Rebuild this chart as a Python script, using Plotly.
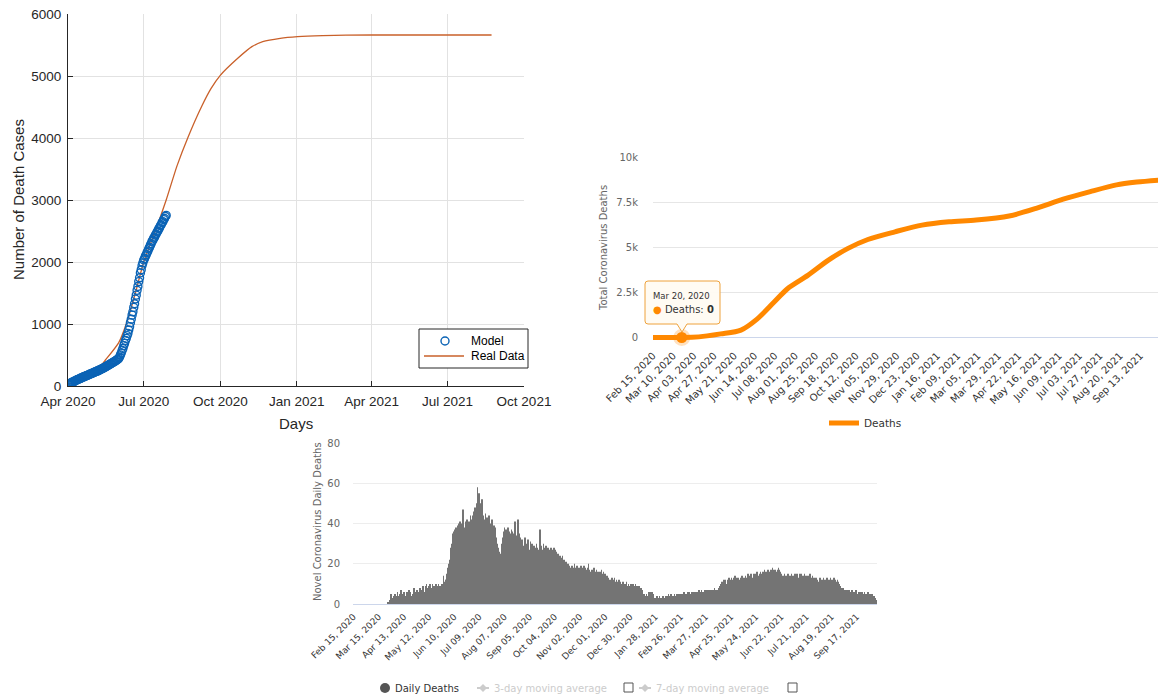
import plotly.graph_objects as go
import pandas as pd

# page has an 8px body margin: figure is sized to the visible window area
OFF = 8
W, H = 1166 - OFF, 697 - OFF
def px(x):
    return (x - OFF) / W
def py(y):
    return 1 - (y - OFF) / H

# ---------------- Panel 1 (model vs real data) ----------------
p1_tick_dates = ["2020-04-01", "2020-07-01", "2020-10-01", "2021-01-01", "2021-04-01", "2021-07-01", "2021-10-01"]
p1_tick_labels = ["Apr 2020", "Jul 2020", "Oct 2020", "Jan 2021", "Apr 2021", "Jul 2021", "Oct 2021"]
model_start = "2020-04-01"          # one model point per day
model_apr = [25, 34, 40, 47, 52, 60, 66, 71, 80, 86, 92, 101, 106, 111, 119, 124, 130, 137, 141, 148,
             155, 159, 166, 172, 176, 184, 189, 193, 200, 205]
model_may = [210, 217, 221, 229, 233, 241, 245, 253, 258, 266, 271, 280, 285, 294, 300, 309, 315, 325,
             331, 341, 347, 357, 363, 373, 379, 389, 395, 406, 413, 425, 433]
model_jun = [446, 468, 502, 532, 572, 606, 652, 688, 733, 768, 812, 848, 903, 957, 1022, 1076, 1143,
             1196, 1268, 1326, 1404, 1465, 1543, 1606, 1684, 1745, 1824, 1876, 1944, 1986]
model_jul = [2032, 2055, 2094, 2116, 2153, 2176, 2213, 2236, 2272, 2297, 2333, 2352, 2384, 2401,
             2434, 2452, 2483, 2501, 2534, 2551, 2584, 2601, 2634, 2651, 2683, 2701, 2733, 2752]
real_dates = ["2020-04-01", "2020-04-15", "2020-05-01", "2020-05-11", "2020-05-16", "2020-06-01",
              "2020-06-10", "2020-06-20", "2020-07-01", "2020-07-15", "2020-07-28", "2020-08-10",
              "2020-08-23", "2020-09-09", "2020-09-20", "2020-10-01", "2020-10-22", "2020-11-08",
              "2020-11-21", "2020-12-12", "2021-01-02", "2021-02-01", "2021-03-01", "2021-05-01",
              "2021-08-23"]
real_vals = [20, 120, 250, 339, 419, 700, 1000, 1450, 2000, 2500, 3000, 3550, 4005, 4520, 4800,
             5010, 5285, 5473, 5553, 5607, 5634, 5652, 5660, 5661, 5661]

# ---------------- Panel 2 (total deaths) ----------------
deaths_dates = ["2020-02-15", "2020-03-20", "2020-04-01", "2020-04-19", "2020-05-05", "2020-05-29",
                "2020-06-17", "2020-07-07", "2020-07-23", "2020-08-16", "2020-09-09", "2020-10-02",
                "2020-10-26", "2020-11-27", "2020-12-29", "2021-01-30", "2021-03-03", "2021-04-11",
                "2021-05-13", "2021-06-14", "2021-07-16", "2021-08-16", "2021-09-09", "2021-10-10"]
deaths_vals = [0, 0, 10, 90, 200, 410, 1020, 1950, 2700, 3440, 4275, 4925, 5430, 5855, 6227,
               6413, 6505, 6729, 7156, 7660, 8085, 8457, 8610, 8740]
tooltip_date = "2020-03-20"
p2_y_ticks = [0, 2500, 5000, 7500, 10000]
p2_y_labels = ["0", "2.5k", "5k", "7.5k", "10k"]
p2_x_ticks = ["2020-02-15", "2020-03-10", "2020-04-03", "2020-04-27", "2020-05-21", "2020-06-14",
              "2020-07-08", "2020-08-01", "2020-08-25", "2020-09-18", "2020-10-12", "2020-11-05",
              "2020-11-29", "2020-12-23", "2021-01-16", "2021-02-09", "2021-03-05", "2021-03-29",
              "2021-04-22", "2021-05-16", "2021-06-09", "2021-07-03", "2021-07-27", "2021-08-20",
              "2021-09-13"]
p2_x_labels = ["Feb 15, 2020", "Mar 10, 2020", "Apr 03, 2020", "Apr 27, 2020", "May 21, 2020",
               "Jun 14, 2020", "Jul 08, 2020", "Aug 01, 2020", "Aug 25, 2020", "Sep 18, 2020",
               "Oct 12, 2020", "Nov 05, 2020", "Nov 29, 2020", "Dec 23, 2020", "Jan 16, 2021",
               "Feb 09, 2021", "Mar 05, 2021", "Mar 29, 2021", "Apr 22, 2021", "May 16, 2021",
               "Jun 09, 2021", "Jul 03, 2021", "Jul 27, 2021", "Aug 20, 2021", "Sep 13, 2021"]

# ---------------- Panel 3 (daily deaths) ----------------
daily_start = "2020-02-15"
daily_2020_feb = [0] * 15
daily_2020_mar = [0] * 25 + [1, 1, 2, 5, 4, 3]
daily_2020_apr = [4, 3, 5, 2, 4, 6, 4, 3, 5, 7, 4, 5, 6, 3, 4, 5, 6, 4, 7, 5, 6, 4, 5, 6, 8, 5, 6, 7, 5, 6]
daily_2020_may = [6, 8, 5, 7, 9, 8, 6, 9, 10, 8, 7, 9, 10, 9, 8, 10, 9, 8, 9, 10, 9, 8, 10, 9, 9, 8, 10, 9, 14, 11, 12]
daily_2020_jun = [12, 15, 18, 20, 22, 28, 30, 33, 35, 36, 37, 38, 36, 39, 40, 38, 41, 39, 40, 47,
                  45, 38, 41, 40, 42, 38, 41, 40, 44, 42]
daily_2020_jul = [40, 44, 46, 48, 45, 50, 58, 52, 55, 50, 48, 52, 45, 44, 42, 45, 40, 43, 41, 44,
                  42, 40, 38, 42, 36, 39, 35, 38, 33, 30, 28]
daily_2020_aug = [26, 25, 24, 30, 33, 36, 38, 35, 37, 34, 38, 36, 33, 35, 37, 36, 33, 35, 41, 36,
                  34, 38, 42, 35, 33, 30, 32, 31, 29, 30, 33]
daily_2020_sep = [28, 30, 32, 29, 27, 31, 28, 30, 26, 29, 28, 27, 30, 28, 27, 26, 37, 29, 28, 27,
                  30, 28, 26, 29, 27, 28, 26, 27, 25, 28]
daily_2020_oct = [27, 26, 28, 25, 27, 26, 24, 25, 23, 24, 22, 23, 24, 21, 22, 20, 21, 19, 20, 18,
                  19, 17, 18, 19, 17, 18, 20, 18, 17, 19, 18]
daily_2020_nov = [17, 18, 19, 17, 18, 16, 19, 18, 17, 16, 18, 20, 17, 16, 15, 17, 16, 18, 15, 16,
                  17, 15, 16, 14, 16, 15, 17, 15, 16, 14]
daily_2020_dec = [15, 13, 14, 12, 13, 12, 11, 12, 13, 11, 12, 13, 11, 12, 10, 11, 12, 10, 11, 10,
                  9, 11, 10, 9, 10, 11, 9, 10, 8, 9, 10]
daily_2021_jan = [9, 10, 8, 9, 10, 8, 9, 8, 9, 8, 7, 8, 7, 4, 5, 4, 4, 5, 4, 6, 5, 6, 5, 6, 5, 4, 3, 3, 2, 4, 3]
daily_2021_feb = [3, 4, 3, 2, 3, 4, 3, 3, 4, 3, 4, 5, 4, 4, 5, 4, 3, 4, 5, 4, 4, 5, 4, 5, 4, 5, 4, 5]
daily_2021_mar = [5, 6, 5, 4, 5, 6, 5, 6, 5, 5, 6, 5, 6, 5, 6, 6, 5, 6, 7, 6, 6, 7, 6, 5, 6, 7, 6, 7, 6, 7, 6]
daily_2021_apr = [7, 6, 7, 6, 7, 8, 6, 7, 6, 7, 8, 9, 10, 9, 11, 10, 12, 11, 12, 10, 11, 12, 13, 12,
                  11, 13, 12, 13, 12, 14]
daily_2021_may = [13, 12, 13, 11, 12, 13, 12, 14, 13, 11, 13, 14, 13, 14, 15, 13, 14, 15, 14, 13,
                  15, 14, 15, 14, 16, 15, 14, 15, 16, 15, 14]
daily_2021_jun = [16, 15, 17, 16, 15, 16, 17, 16, 15, 17, 16, 18, 17, 16, 17, 16, 15, 17, 18, 17,
                  16, 15, 14, 13, 14, 15, 14, 13, 14, 15]
daily_2021_jul = [14, 13, 14, 15, 14, 13, 14, 15, 14, 15, 14, 13, 15, 14, 15, 14, 13, 14, 15, 14,
                  13, 14, 13, 14, 15, 14, 13, 14, 13, 12, 13]
daily_2021_aug = [12, 13, 12, 11, 12, 13, 12, 11, 12, 13, 12, 11, 12, 13, 12, 11, 12, 13, 12, 11,
                  12, 13, 12, 11, 10, 12, 11, 10, 9, 8, 8]
daily_2021_sep = [7, 8, 7, 6, 7, 6, 7, 6, 7, 6, 6, 7, 6, 5, 6, 7, 6, 5, 6, 6, 5, 6, 5, 6, 5, 6, 5, 4, 5, 6]
daily_2021_oct = [5, 4, 5, 4, 5, 3, 4, 3, 2, 2]
p3_x_ticks = ["2020-02-15", "2020-03-15", "2020-04-13", "2020-05-12", "2020-06-10", "2020-07-09",
              "2020-08-07", "2020-09-05", "2020-10-04", "2020-11-02", "2020-12-01", "2020-12-30",
              "2021-01-28", "2021-02-26", "2021-03-27", "2021-04-25", "2021-05-24", "2021-06-22",
              "2021-07-21", "2021-08-19", "2021-09-17"]
p3_x_labels = ["Feb 15, 2020", "Mar 15, 2020", "Apr 13, 2020", "May 12, 2020", "Jun 10, 2020",
               "Jul 09, 2020", "Aug 07, 2020", "Sep 05, 2020", "Oct 04, 2020", "Nov 02, 2020",
               "Dec 01, 2020", "Dec 30, 2020", "Jan 28, 2021", "Feb 26, 2021", "Mar 27, 2021",
               "Apr 25, 2021", "May 24, 2021", "Jun 22, 2021", "Jul 21, 2021", "Aug 19, 2021",
               "Sep 17, 2021"]
p3_y_ticks = [0, 20, 40, 60, 80]

model_vals = model_apr + model_may + model_jun + model_jul
model_dates = pd.date_range(model_start, periods=len(model_vals), freq="D")
daily_vals = (daily_2020_feb + daily_2020_mar + daily_2020_apr + daily_2020_may + daily_2020_jun +
              daily_2020_jul + daily_2020_aug + daily_2020_sep + daily_2020_oct + daily_2020_nov +
              daily_2020_dec + daily_2021_jan + daily_2021_feb + daily_2021_mar + daily_2021_apr +
              daily_2021_may + daily_2021_jun + daily_2021_jul + daily_2021_aug + daily_2021_sep +
              daily_2021_oct)
daily_dates = pd.date_range(daily_start, periods=len(daily_vals), freq="D")

ML_FONT = "Liberation Sans, Arial, sans-serif"
HC_FONT = "DejaVu Sans, Verdana, sans-serif"
ORANGE = "#ff8800"
BLUE = "#0b63b5"
BROWN = "#c9602a"

fig = go.Figure()

# Panel 1 traces
fig.add_trace(go.Scatter(x=real_dates, y=real_vals, mode="lines", name="Real Data",
                         line=dict(color=BROWN, width=1.3, shape="spline", smoothing=0.6),
                         xaxis="x", yaxis="y", showlegend=False))
fig.add_trace(go.Scatter(x=model_dates, y=model_vals, mode="markers", name="Model",
                         marker=dict(symbol="circle-open", size=8, color=BLUE,
                                     line=dict(width=1.4, color=BLUE)),
                         xaxis="x", yaxis="y", showlegend=False))

# Panel 2 traces
fig.add_trace(go.Scatter(x=deaths_dates, y=deaths_vals, mode="lines", name="Deaths",
                         line=dict(color=ORANGE, width=5, shape="spline", smoothing=0.8),
                         xaxis="x2", yaxis="y2", legend="legend2"))
tip_val = deaths_vals[deaths_dates.index(tooltip_date)]
fig.add_trace(go.Scatter(x=[tooltip_date], y=[tip_val], mode="markers", showlegend=False,
                         marker=dict(size=11, color=ORANGE,
                                     line=dict(width=6, color="rgba(255,136,0,0.25)")),
                         xaxis="x2", yaxis="y2", cliponaxis=False))

# Panel 3 bars
fig.add_trace(go.Bar(x=daily_dates, y=daily_vals, name="Daily Deaths", showlegend=False,
                     marker=dict(color="#747474", line=dict(width=0)),
                     xaxis="x3", yaxis="y3"))

ml_axis = dict(showline=True, linecolor="#262626", linewidth=1, ticks="inside", ticklen=5,
               tickcolor="#262626", showgrid=True, gridcolor="#e2e2e2", zeroline=False,
               tickfont=dict(family=ML_FONT, size=13.5, color="#262626"), mirror=False,
               automargin=False, ticklabeloverflow="allow")

fig.update_layout(
    template="none",
    width=W, height=H, autosize=False,
    margin=dict(l=0, r=0, t=0, b=0, pad=0),
    paper_bgcolor="white", plot_bgcolor="white",
    showlegend=True,
    bargap=0.33,
    xaxis=dict(ml_axis, domain=[px(68), px(524)], anchor="y", type="date",
               range=["2020-04-01", "2021-10-01"], tickmode="array",
               tickvals=p1_tick_dates, ticktext=p1_tick_labels, ticklabelstandoff=3),
    yaxis=dict(ml_axis, domain=[py(386), py(14)], anchor="x", range=[0, 6000],
               tickmode="linear", tick0=0, dtick=1000, ticklabelstandoff=3),
    xaxis2=dict(domain=[px(653), 1.0], anchor="y2", type="date", automargin=False,
                range=["2020-02-15", "2021-10-13 12:00"], tickmode="array",
                tickvals=p2_x_ticks, ticktext=p2_x_labels, tickangle=-45,
                showgrid=False, zeroline=False, showline=False,
                ticks="outside", ticklen=3, tickcolor="rgba(0,0,0,0)",
                tickfont=dict(family=HC_FONT, size=10, color="#333333")),
    yaxis2=dict(domain=[py(342), py(157)], anchor="x2", range=[-250, 10000], automargin=False,
                tickmode="array", tickvals=p2_y_ticks, ticktext=p2_y_labels,
                showgrid=True, gridcolor="#e6e6e6", zeroline=True, zerolinecolor="#ccd6eb",
                zerolinewidth=1, showline=False, ticks="outside", ticklen=12,
                tickcolor="rgba(0,0,0,0)",
                tickfont=dict(family=HC_FONT, size=10, color="#666666")),
    xaxis3=dict(domain=[px(353), px(877)], anchor="y3", type="date", automargin=False,
                range=["2020-02-14 12:00", "2021-10-10 12:00"], tickmode="array",
                tickvals=p3_x_ticks, ticktext=p3_x_labels, tickangle=-45,
                showgrid=False, zeroline=False, showline=True, linecolor="#ccd6eb", linewidth=1,
                ticks="outside", ticklen=3, tickcolor="rgba(0,0,0,0)",
                tickfont=dict(family=HC_FONT, size=9, color="#333333")),
    yaxis3=dict(domain=[py(604), py(443)], anchor="x3", range=[0, 80], automargin=False,
                tickmode="array", tickvals=p3_y_ticks,
                showgrid=True, gridcolor="#ededed", zeroline=False, showline=False,
                ticks="outside", ticklen=10, tickcolor="rgba(0,0,0,0)",
                tickfont=dict(family=HC_FONT, size=10, color="#666666")),
    legend2=dict(x=px(824), xanchor="left", y=py(423), yanchor="middle",
                 orientation="h", bgcolor="rgba(0,0,0,0)", borderwidth=0,
                 font=dict(family=HC_FONT, size=10.5, color="#333333"), itemwidth=30),
)

def note(text, x, y, size, color, family, xanchor="center", angle=0):
    return dict(text=text, x=px(x), y=py(y), xref="paper", yref="paper", xanchor=xanchor,
                yanchor="middle", textangle=angle, showarrow=False,
                font=dict(family=family, size=size, color=color))

annotations = [
    # axis titles
    note("Number of Death Cases", 18, 200, 15, "#262626", ML_FONT, angle=-90),
    note("Days", 296, 423, 15, "#262626", ML_FONT),
    note("Total Coronavirus Deaths", 604, 248, 10, "#666666", HC_FONT, angle=-90),
    note("Novel Coronavirus Daily Deaths", 317, 522, 10, "#666666", HC_FONT, angle=-90),
    # panel 1 legend (MATLAB style box)
    note("Model", 469, 341, 12, "#000000", ML_FONT, xanchor="left"),
    note("Real Data", 469, 356, 12, "#000000", ML_FONT, xanchor="left"),
    # panel 3 legend
    note("Daily Deaths", 393, 688, 10, "#333333", HC_FONT, xanchor="left"),
    note("3-day moving average", 492, 688, 10, "#cccccc", HC_FONT, xanchor="left"),
    note("7-day moving average", 654, 688, 10, "#cccccc", HC_FONT, xanchor="left"),
]
# tooltip on panel 2
tip_label = pd.Timestamp(tooltip_date).strftime("%b %d, %Y")
annotations.append(note(tip_label, 651, 296, 8.5, "#333333", HC_FONT, xanchor="left"))
annotations.append(note(f"<span style='color:{ORANGE}'>●</span> Deaths: <b>{tip_val}</b>",
                        651, 309, 10, "#333333", HC_FONT, xanchor="left"))

shapes = []
# panel 1 legend box + symbols
shapes.append(dict(type="rect", xref="paper", yref="paper", x0=px(419), x1=px(528), y0=py(368), y1=py(329),
                   fillcolor="white", line=dict(color="#262626", width=1), layer="above"))
shapes.append(dict(type="circle", xref="paper", yref="paper", x0=px(441), x1=px(449), y0=py(345), y1=py(337),
                   fillcolor="rgba(0,0,0,0)", line=dict(color=BLUE, width=1.4), layer="above"))
shapes.append(dict(type="line", xref="paper", yref="paper", x0=px(424), x1=px(464), y0=py(356), y1=py(356),
                   line=dict(color=BROWN, width=1.3), layer="above"))

# tooltip box with pointer
L, R, T, B, r = 645, 720, 281, 324, 3
pts = [
    f"M {px(L + r)},{py(T)}", f"L {px(R - r)},{py(T)}", f"Q {px(R)},{py(T)} {px(R)},{py(T + r)}",
    f"L {px(R)},{py(B - r)}", f"Q {px(R)},{py(B)} {px(R - r)},{py(B)}",
    f"L {px(687)},{py(B)}", f"L {px(682)},{py(332)}", f"L {px(677)},{py(B)}",
    f"L {px(L + r)},{py(B)}", f"Q {px(L)},{py(B)} {px(L)},{py(B - r)}",
    f"L {px(L)},{py(T + r)}", f"Q {px(L)},{py(T)} {px(L + r)},{py(T)}", "Z",
]
shapes.append(dict(type="path", path=" ".join(pts), xref="paper", yref="paper",
                   fillcolor="rgba(255,251,242,0.95)", line=dict(color="#eea23c", width=1)))
# legend symbols for panel 3
shapes.append(dict(type="circle", xref="paper", yref="paper", x0=px(380), x1=px(390),
                   y0=py(693), y1=py(683), fillcolor="#555555", line=dict(width=0)))
for x0 in (477, 639):
    shapes.append(dict(type="line", xref="paper", yref="paper", x0=px(x0), x1=px(x0 + 12),
                       y0=py(688), y1=py(688), line=dict(color="#cccccc", width=2)))
    cx = x0 + 6
    shapes.append(dict(type="path", xref="paper", yref="paper",
                       path=f"M {px(cx)},{py(684)} L {px(cx + 4)},{py(688)} L {px(cx)},{py(692)} L {px(cx - 4)},{py(688)} Z",
                       fillcolor="#cccccc", line=dict(width=0)))
for x0 in (624, 788):
    shapes.append(dict(type="rect", xref="paper", yref="paper", x0=px(x0), x1=px(x0 + 9),
                       y0=py(692), y1=py(683), fillcolor="white", line=dict(color="#555555", width=1)))

fig.update_layout(annotations=annotations, shapes=shapes)
fig.write_html("out.html")
